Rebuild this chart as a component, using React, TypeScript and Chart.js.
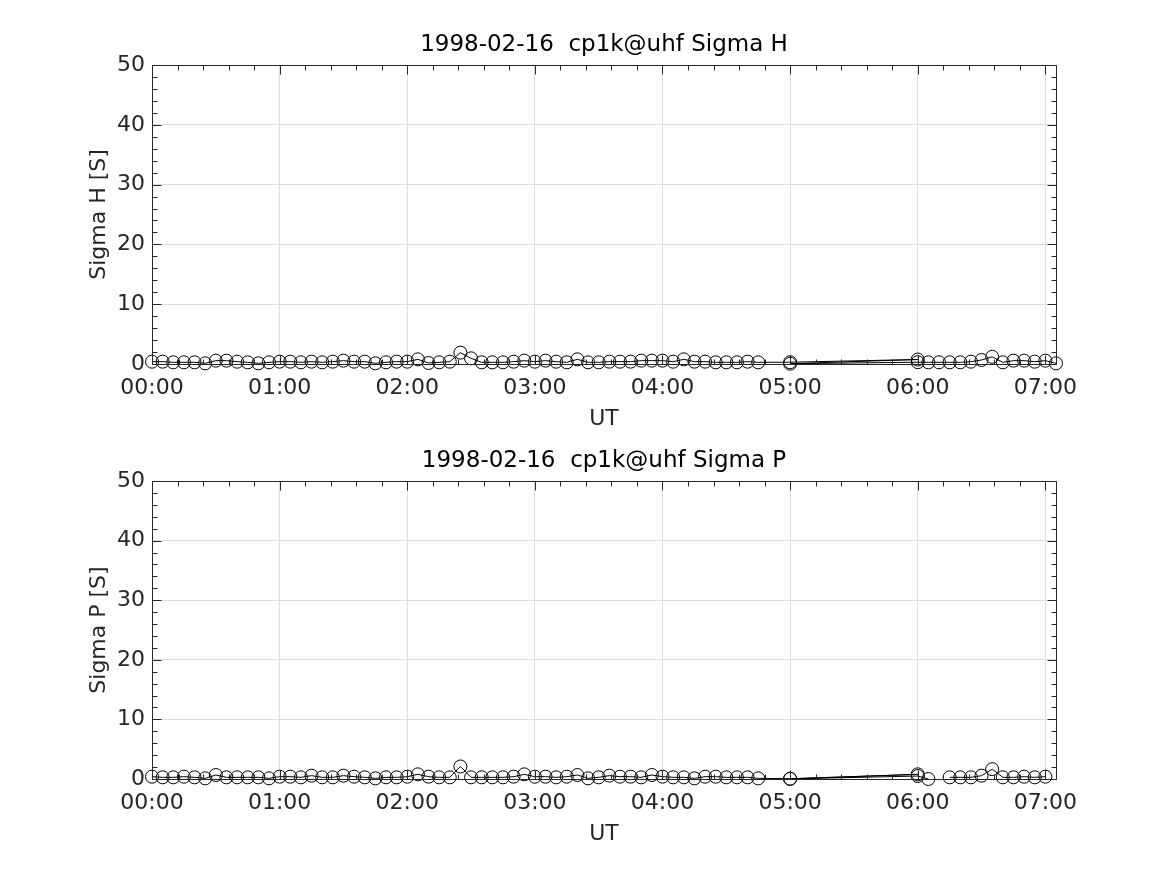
import React, { useEffect, useRef } from 'react';
import { Chart, registerables } from 'chart.js';

Chart.register(...registerables);

// ---------- data ----------
const X_TICK_MINUTES = [0, 60, 120, 180, 240, 300, 360, 420];
const X_TICK_LABELS = ['00:00', '01:00', '02:00', '03:00', '04:00', '05:00', '06:00', '07:00'];
const Y_TICKS = [0, 10, 20, 30, 40, 50];
const X_MIN = 0;
const X_MAX = 425;
const Y_MIN = 0;
const Y_MAX = 50;
const X_MINOR_STEP = 12;
const Y_MINOR_STEP = 2;

const TIME_H = [
  0, 5, 10, 15, 20, 25, 30, 35, 40, 45, 50, 55,
  60, 65, 70, 75, 80, 85, 90, 95, 100, 105, 110, 115,
  120, 125, 130, 135, 140, 145, 150, 155, 160, 165, 170, 175,
  180, 185, 190, 195, 200, 205, 210, 215, 220, 225, 230, 235,
  240, 245, 250, 255, 260, 265, 270, 275, 280, 285,
  300, 360, 300, 360,
  365, 370, 375, 380, 385, 390, 395, 400, 405, 410, 415, 420, 425,
];
const SIGMA_H = [
  0.39, 0.39, 0.28, 0.28, 0.28, 0.11, 0.56, 0.56, 0.39, 0.28, 0.11, 0.28,
  0.39, 0.39, 0.28, 0.39, 0.28, 0.39, 0.56, 0.39, 0.39, 0.11, 0.28, 0.39,
  0.39, 0.78, 0.17, 0.28, 0.39, 1.9, 0.95, 0.28, 0.28, 0.28, 0.39, 0.56,
  0.39, 0.56, 0.39, 0.28, 0.78, 0.28, 0.28, 0.39, 0.39, 0.39, 0.56, 0.56,
  0.56, 0.39, 0.78, 0.39, 0.39, 0.28, 0.28, 0.28, 0.39, 0.28,
  0.3, 0.75, 0.05, 0.3,
  0.28, 0.28, 0.28, 0.28, 0.39, 0.67, 1.2, 0.28, 0.56, 0.56, 0.39, 0.56, 0.11,
];

const TIME_P = [
  0, 5, 10, 15, 20, 25, 30, 35, 40, 45, 50, 55,
  60, 65, 70, 75, 80, 85, 90, 95, 100, 105, 110, 115,
  120, 125, 130, 135, 140, 145, 150, 155, 160, 165, 170, 175,
  180, 185, 190, 195, 200, 205, 210, 215, 220, 225, 230, 235,
  240, 245, 250, 255, 260, 265, 270, 275, 280, 285,
  300, 360, 300, 360,
  365, 370, 375, 380, 385, 390, 395, 400, 405, 410, 415, 420, 425,
];
const SIGMA_P = [
  0.39, 0.28, 0.28, 0.39, 0.28, 0.11, 0.67, 0.28, 0.28, 0.28, 0.28, 0.11,
  0.39, 0.39, 0.28, 0.56, 0.28, 0.28, 0.56, 0.39, 0.28, 0.11, 0.28, 0.28,
  0.39, 0.78, 0.39, 0.28, 0.28, 2.1, 0.28, 0.28, 0.28, 0.28, 0.39, 0.78,
  0.39, 0.39, 0.28, 0.39, 0.67, 0.11, 0.28, 0.56, 0.39, 0.39, 0.28, 0.67,
  0.39, 0.28, 0.28, 0.11, 0.39, 0.39, 0.28, 0.28, 0.28, 0.11,
  0.05, 0.78, 0.02, 0.5,
  0.0, null, 0.28, 0.28, 0.28, 0.56, 1.65, 0.28, 0.28, 0.39, 0.28, 0.39, null,
];

// ---------- style ----------
const FONT = 'DejaVu Sans';
const AXIS_COLOR = '#262626';
const GRID_COLOR = '#dedede';
const W = 1167;
const H = 875;

const boxPlugin = {
  id: 'matlabBox',
  afterDraw(chart: any) {
    const { ctx, chartArea: a, scales } = chart;
    const xs = scales.x;
    const ys = scales.y;
    const L = Math.round(a.left) + 0.5;
    const R = Math.round(a.right) + 0.5;
    const T = Math.round(a.top) + 0.5;
    const B = Math.round(a.bottom) + 0.5;
    ctx.save();
    ctx.strokeStyle = AXIS_COLOR;
    ctx.lineWidth = 1;
    ctx.beginPath();
    ctx.rect(L, T, R - L, B - T);
    const major = 9;
    const minor = 5;
    for (let v = X_MIN; v <= X_MAX + 1e-9; v += X_MINOR_STEP) {
      if (X_TICK_MINUTES.includes(v)) continue;
      const px = Math.round(xs.getPixelForValue(v)) + 0.5;
      ctx.moveTo(px, B); ctx.lineTo(px, B - minor);
      ctx.moveTo(px, T); ctx.lineTo(px, T + minor);
    }
    for (const v of X_TICK_MINUTES) {
      const px = Math.round(xs.getPixelForValue(v)) + 0.5;
      ctx.moveTo(px, B); ctx.lineTo(px, B - major);
      ctx.moveTo(px, T); ctx.lineTo(px, T + major);
    }
    for (let v = Y_MIN; v <= Y_MAX + 1e-9; v += Y_MINOR_STEP) {
      if (Y_TICKS.includes(v)) continue;
      const py = Math.round(ys.getPixelForValue(v)) + 0.5;
      ctx.moveTo(L, py); ctx.lineTo(L + minor, py);
      ctx.moveTo(R, py); ctx.lineTo(R - minor, py);
    }
    for (const v of Y_TICKS) {
      const py = Math.round(ys.getPixelForValue(v)) + 0.5;
      ctx.moveTo(L, py); ctx.lineTo(L + major, py);
      ctx.moveTo(R, py); ctx.lineTo(R - major, py);
    }
    ctx.stroke();
    ctx.restore();
  },
};

type PanelProps = {
  title: string;
  yLabel: string;
  times: number[];
  values: (number | null)[];
  padTop: number;
  padBottom: number;
};

function Panel({ title, yLabel, times, values, padTop, padBottom }: PanelProps) {
  const ref = useRef<HTMLCanvasElement | null>(null);
  useEffect(() => {
    if (!ref.current) return;
    const data = times.map((t, i) => ({ x: t, y: values[i] }));
    const chart = new Chart(ref.current, {
      type: 'scatter',
      data: {
        datasets: [
          {
            data: data as any,
            showLine: true,
            borderColor: '#000000',
            borderWidth: 1,
            backgroundColor: 'rgba(0,0,0,0)',
            pointStyle: 'circle',
            pointRadius: 6.5,
            pointBorderWidth: 1,
            pointBorderColor: '#000000',
            pointBackgroundColor: 'rgba(0,0,0,0)',
            spanGaps: false,
            clip: false as any,
          },
        ],
      },
      options: {
        responsive: false,
        animation: false,
        devicePixelRatio: 1,
        events: [],
        layout: { padding: { top: padTop, bottom: padBottom, left: 70, right: 111 } },
        plugins: {
          legend: { display: false },
          tooltip: { enabled: false },
          title: {
            display: true,
            text: title,
            color: '#000000',
            fullSize: false,
            font: { family: FONT, size: 23, weight: 'normal' as any, lineHeight: 1.2 },
            padding: { top: 31.2, bottom: 6.2 },
          },
        },
        scales: {
          x: {
            type: 'linear',
            min: X_MIN,
            max: X_MAX,
            afterBuildTicks: (s: any) => {
              s.ticks = X_TICK_MINUTES.map((v) => ({ value: v }));
            },
            afterFit: (s: any) => {
              s.height = 70;
            },
            ticks: {
              autoSkip: false,
              maxRotation: 0,
              minRotation: 0,
              padding: 11,
              color: AXIS_COLOR,
              font: { family: FONT, size: 22, lineHeight: 1.2 },
              callback: (_v: any, i: number) => X_TICK_LABELS[i],
            },
            grid: { color: GRID_COLOR, drawTicks: false, lineWidth: 1 },
            border: { display: false },
            title: {
              display: true,
              text: 'UT',
              color: AXIS_COLOR,
              font: { family: FONT, size: 22, lineHeight: 1.2 },
              padding: { top: 0, bottom: 1.8 },
            },
          },
          y: {
            type: 'linear',
            min: Y_MIN,
            max: Y_MAX,
            afterBuildTicks: (s: any) => {
              s.ticks = Y_TICKS.map((v) => ({ value: v }));
            },
            afterFit: (s: any) => {
              s.width = 82;
            },
            ticks: {
              padding: 7,
              color: AXIS_COLOR,
              font: { family: FONT, size: 22, lineHeight: 1.2 },
              callback: (v: any) => String(v),
            },
            grid: { color: GRID_COLOR, drawTicks: false, lineWidth: 1 },
            border: { display: false },
            title: {
              display: true,
              text: yLabel,
              color: AXIS_COLOR,
              font: { family: FONT, size: 22, lineHeight: 1.2 },
              padding: { top: 15.8, bottom: 0 },
            },
          },
        },
      },
      plugins: [boxPlugin],
    });
    return () => chart.destroy();
  }, [title, yLabel, times, values, padTop, padBottom]);
  return (
    <canvas
      ref={ref}
      width={W}
      height={H}
      style={{ position: 'absolute', left: 0, top: 0, width: W, height: H }}
    />
  );
}

export default function App() {
  return (
    <div style={{ position: 'absolute', left: 0, top: 0, width: W, height: H, background: '#ffffff' }}>
      <Panel
        title="1998-02-16  cp1k@uhf Sigma H"
        yLabel="Sigma H [S]"
        times={TIME_H}
        values={SIGMA_H}
        padTop={0}
        padBottom={441}
      />
      <Panel
        title="1998-02-16  cp1k@uhf Sigma P"
        yLabel="Sigma P [S]"
        times={TIME_P}
        values={SIGMA_P}
        padTop={416}
        padBottom={26}
      />
    </div>
  );
}
